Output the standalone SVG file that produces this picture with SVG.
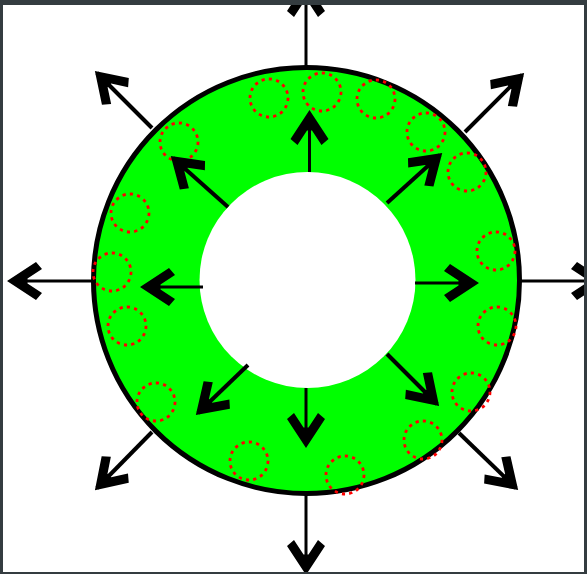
<svg xmlns="http://www.w3.org/2000/svg" width="587" height="574" viewBox="0 0 587 574">
<style>
.sh{stroke:#000;stroke-width:3;fill:none;marker-end:url(#ah)}
.dg{stroke-width:4}
.dc{fill:none;stroke:#ff0000;stroke-width:2.8;stroke-dasharray:3.2 4.2}
</style>
<defs>
<marker id="ah" viewBox="-36 -22 40 44" refX="0" refY="0" markerWidth="40" markerHeight="44" markerUnits="userSpaceOnUse" orient="auto" overflow="visible">
<path d="M3,0 L-26,-19 L-32,-12 L-17.5,-2.5 L-17.5,2.5 L-32,12 L-26,19 Z" fill="#000"/>
</marker>
</defs>
<rect x="0" y="0" width="587" height="574" fill="#fff"/>
<g id="ring">
<circle cx="306.5" cy="280.5" r="213" fill="#00ff00" stroke="#000" stroke-width="5"/>
<circle cx="307.5" cy="280" r="108" fill="#fff"/>
</g>
<g id="particles">
<circle class="dc" cx="269" cy="98" r="19"/>
<circle class="dc" cx="322" cy="92" r="19"/>
<circle class="dc" cx="376" cy="99" r="19"/>
<circle class="dc" cx="426" cy="132" r="19"/>
<circle class="dc" cx="467" cy="172" r="19"/>
<circle class="dc" cx="496" cy="251" r="19"/>
<circle class="dc" cx="497" cy="326" r="19"/>
<circle class="dc" cx="471" cy="392" r="19"/>
<circle class="dc" cx="423" cy="440" r="19"/>
<circle class="dc" cx="345" cy="475" r="19"/>
<circle class="dc" cx="249" cy="461" r="19"/>
<circle class="dc" cx="156" cy="402" r="19"/>
<circle class="dc" cx="127" cy="326" r="19"/>
<circle class="dc" cx="112" cy="272" r="19"/>
<circle class="dc" cx="130" cy="213" r="19"/>
<circle class="dc" cx="179" cy="142" r="19"/>
</g>
<g id="connectors">
<line class="sh" x1="306" y1="68" x2="306" y2="-15"/>
<line class="sh" x1="93" y1="281" x2="10" y2="281"/>
<line class="sh" x1="520" y1="281" x2="603" y2="281"/>
<line class="sh" x1="306" y1="493" x2="306" y2="572"/>
<line class="sh dg" x1="152" y1="128" x2="97" y2="73"/>
<line class="sh dg" x1="465" y1="132" x2="522" y2="75"/>
<line class="sh dg" x1="152" y1="432" x2="97" y2="488"/>
<line class="sh dg" x1="459" y1="433" x2="516" y2="488"/>
<line class="sh" x1="309.5" y1="172" x2="309.5" y2="113"/>
<line class="sh dg" x1="387" y1="203" x2="440" y2="155"/>
<line class="sh" x1="415" y1="283" x2="476" y2="283"/>
<line class="sh dg" x1="387" y1="354" x2="437" y2="404"/>
<line class="sh" x1="306" y1="388" x2="306" y2="445"/>
<line class="sh dg" x1="248" y1="365" x2="198" y2="413"/>
<line class="sh" x1="203" y1="287" x2="143" y2="287"/>
<line class="sh dg" x1="228" y1="207" x2="173" y2="158"/>
</g>
<path id="frame" fill="#343c40" fill-rule="evenodd" d="M0,0 H587 V574 H0 Z M3,5 V572 H584 V5 Z"/>
</svg>
